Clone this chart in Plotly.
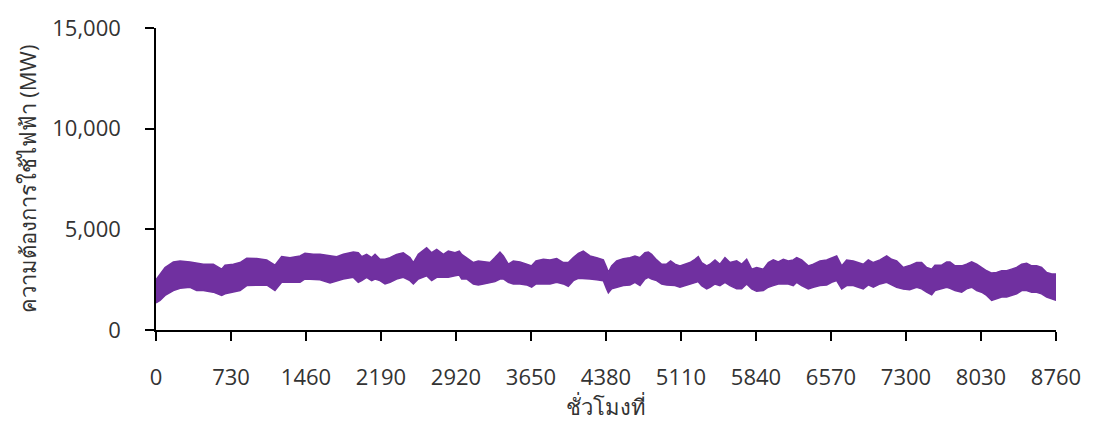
import plotly.graph_objects as go

# Hourly electricity demand over one year, summarised as the upper and lower
# envelope of the hourly load curve (MW) at sampled hours.
hours = [0, 39, 88, 169, 234, 331, 396, 461, 558, 639, 672, 753, 818, 883, 980,
         1077, 1158, 1223, 1304, 1402, 1450, 1531, 1596, 1694, 1758, 1823, 1921,
         1969, 2002, 2050, 2099, 2132, 2180, 2229, 2278, 2342, 2407, 2472, 2505,
         2553, 2634, 2683, 2732, 2797, 2845, 2910, 2952, 2975, 3024, 3089, 3137,
         3186, 3251, 3299, 3348, 3381, 3429, 3478, 3543, 3608, 3656, 3699, 3770,
         3835, 3900, 3965, 4013, 4062, 4111, 4159, 4224, 4289, 4354, 4386, 4403,
         4435, 4484, 4549, 4613, 4662, 4711, 4759, 4792, 4824, 4873, 4922, 4970,
         5009, 5051, 5100, 5149, 5197, 5246, 5278, 5311, 5360, 5392, 5441, 5489,
         5538, 5587, 5652, 5700, 5749, 5798, 5846, 5911, 5960, 6008, 6057, 6106,
         6154, 6203, 6236, 6284, 6349, 6398, 6463, 6528, 6576, 6625, 6674, 6722,
         6787, 6836, 6884, 6933, 6982, 7047, 7112, 7160, 7209, 7274, 7335, 7404,
         7452, 7501, 7550, 7582, 7647, 7696, 7728, 7777, 7842, 7890, 7939, 7988,
         8036, 8085, 8134, 8182, 8231, 8280, 8328, 8377, 8426, 8474, 8523, 8572,
         8620, 8669, 8718, 8760]

demand_max = [2500, 2778, 3105, 3382, 3431, 3382, 3317, 3268, 3268, 3023, 3219,
              3268, 3350, 3562, 3546, 3480, 3219, 3644, 3595, 3677, 3807, 3758,
              3758, 3709, 3644, 3758, 3873, 3840, 3644, 3758, 3595, 3758, 3513,
              3513, 3595, 3758, 3840, 3595, 3350, 3758, 4085, 3840, 4003, 3758,
              3922, 3840, 3922, 3758, 3595, 3350, 3431, 3382, 3350, 3595, 3873,
              3677, 3268, 3431, 3382, 3268, 3186, 3431, 3513, 3480, 3546, 3350,
              3350, 3595, 3807, 3922, 3677, 3595, 3480, 3105, 2860, 3186, 3431,
              3546, 3595, 3677, 3595, 3840, 3873, 3758, 3480, 3268, 3268, 3431,
              3268, 3186, 3268, 3350, 3513, 3644, 3350, 3186, 3268, 3480, 3268,
              3595, 3350, 3431, 3268, 3513, 3023, 3105, 3023, 3350, 3480, 3382,
              3513, 3431, 3480, 3595, 3480, 3186, 3268, 3431, 3480, 3595, 3677,
              3186, 3480, 3431, 3350, 3268, 3480, 3350, 3480, 3677, 3513, 3431,
              3105, 3200, 3350, 3350, 3105, 3023, 3219, 3219, 3382, 3382, 3186,
              3186, 3268, 3382, 3268, 3105, 2941, 2827, 2860, 2941, 2941, 3023,
              3105, 3268, 3317, 3186, 3186, 3105, 2860, 2778, 2778]

demand_min = [1350, 1471, 1716, 1961, 2075, 2124, 1961, 1961, 1879, 1716, 1797,
              1879, 1961, 2206, 2239, 2239, 1961, 2369, 2369, 2369, 2533, 2533,
              2500, 2337, 2451, 2533, 2614, 2369, 2451, 2614, 2451, 2533, 2451,
              2288, 2369, 2533, 2614, 2451, 2288, 2533, 2696, 2451, 2614, 2614,
              2614, 2696, 2729, 2533, 2533, 2288, 2239, 2288, 2337, 2402, 2533,
              2533, 2369, 2288, 2288, 2239, 2124, 2288, 2288, 2288, 2369, 2288,
              2173, 2451, 2565, 2565, 2533, 2500, 2451, 2043, 1846, 2043, 2124,
              2206, 2239, 2369, 2206, 2533, 2614, 2533, 2451, 2288, 2239, 2206,
              2206, 2124, 2206, 2288, 2369, 2402, 2206, 2043, 2124, 2288, 2206,
              2369, 2206, 2043, 2043, 2288, 2043, 1920, 1961, 2124, 2206, 2288,
              2288, 2288, 2206, 2369, 2206, 2043, 2124, 2206, 2239, 2369, 2451,
              2043, 2206, 2206, 2124, 2043, 2239, 2124, 2288, 2369, 2239, 2124,
              2030, 2000, 2124, 2043, 1879, 1748, 1961, 2043, 2124, 2075, 1961,
              1879, 2043, 2124, 1961, 1879, 1716, 1471, 1552, 1634, 1634, 1716,
              1797, 1961, 1961, 1879, 1879, 1797, 1634, 1552, 1471]

x_ticks = [0, 730, 1460, 2190, 2920, 3650, 4380, 5110, 5840, 6570, 7300, 8030, 8760]
y_ticks = [0, 5000, 10000, 15000]
y_tick_text = ["0", "5,000", "10,000", "15,000"]

line_color = "#7030A0"
text_color = "#333333"
font_family = "Open Sans, Noto Sans, sans-serif"

fig = go.Figure()
fig.add_trace(go.Scatter(
    x=hours, y=demand_min, mode="lines",
    line=dict(color=line_color, width=1.5),
    hoverinfo="skip", showlegend=False,
))
fig.add_trace(go.Scatter(
    x=hours, y=demand_max, mode="lines",
    line=dict(color=line_color, width=1.5),
    fill="tonexty", fillcolor=line_color,
    showlegend=False,
))

axis_common = dict(
    showgrid=False, zeroline=False,
    showline=True, linecolor="#000000", linewidth=1.5,
    ticks="outside", ticklen=9, tickwidth=1.5, tickcolor="#000000",
    tickfont=dict(family=font_family, size=22, color=text_color),
)

fig.update_layout(
    width=1095, height=430,
    margin=dict(l=156, r=39, t=25, b=100),
    paper_bgcolor="white", plot_bgcolor="white",
    font=dict(family=font_family, size=22, color=text_color),
    xaxis=dict(
        range=[0, 8760], tickmode="array", tickvals=x_ticks,
        ticklabelstandoff=18,
        title=dict(text="ชั่วโมงที่", font=dict(size=22, color=text_color), standoff=8),
        **axis_common,
    ),
    yaxis=dict(
        range=[0, 15000], tickmode="array", tickvals=y_ticks, ticktext=y_tick_text,
        ticklabelstandoff=20,
        title=dict(text="ความต้องการใช้ไฟฟ้า (MW)", font=dict(size=22, color=text_color), standoff=10),
        **axis_common,
    ),
)

fig.write_html("out.html")
